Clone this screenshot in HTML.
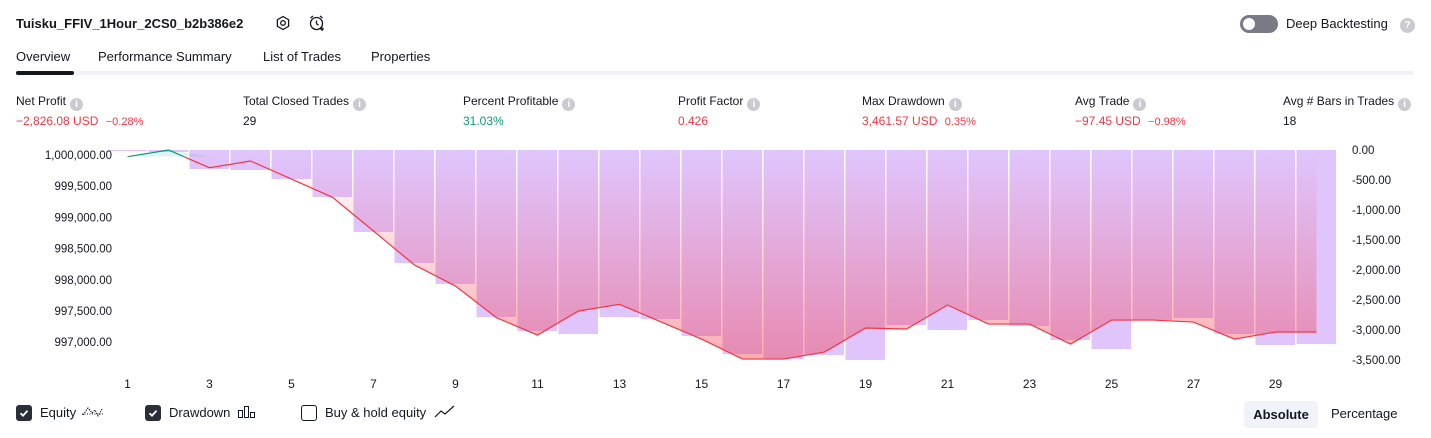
<!DOCTYPE html>
<html><head><meta charset="utf-8">
<style>
body{margin:0;width:1431px;height:438px;background:#fff;font-family:"Liberation Sans",sans-serif;color:#131722;overflow:hidden;position:relative}
.a{position:absolute;white-space:nowrap}
.lbl{font-size:12px;color:#131722}
.val{font-size:12px}
.info{display:inline-block;width:13px;height:13px;border-radius:50%;background:#c9cbd1;color:#fff;font-size:10px;line-height:13px;text-align:center;vertical-align:-2px;margin-left:4px;font-weight:bold}
.red{color:#f23645}.green{color:#089981}
.tab{font-size:13px;top:49px}
.cb{display:inline-block;width:16px;height:16px;border-radius:3px;vertical-align:-4px;margin-right:8px;box-sizing:border-box}
</style></head><body>
<div class="a" style="left:16px;top:16px;font-size:13px;font-weight:bold">Tuisku_FFIV_1Hour_2CS0_b2b386e2</div>
<svg class="a" style="left:275px;top:15px" width="16" height="16"><polygon points="8,1.5 13.6,4.75 13.6,11.25 8,14.5 2.4,11.25 2.4,4.75" fill="none" stroke="#131722" stroke-width="1.3"/><circle cx="8" cy="8" r="2.3" fill="none" stroke="#131722" stroke-width="1.3"/></svg>
<svg class="a" style="left:308px;top:14px" width="18" height="18"><circle cx="8.5" cy="9.5" r="6" fill="none" stroke="#131722" stroke-width="1.3"/><path d="M8.5 6.5v3.3l2 1.3M2.5 4l2.5-2M14.5 4l-2.5-2" fill="none" stroke="#131722" stroke-width="1.3"/><path d="M14 13v4M12 15h4" stroke="#131722" stroke-width="1.3"/></svg>
<div class="a" style="left:1240px;top:15px;width:38px;height:18px;border-radius:9px;background:#787b86"><div style="position:absolute;left:3px;top:3px;width:12px;height:12px;border-radius:50%;background:#fff"></div></div>
<div class="a" style="left:1286px;top:16px;font-size:13px">Deep Backtesting</div>
<div class="a info" style="left:1396px;top:18px;width:15px;height:15px;line-height:15px">?</div>

<div class="a tab" style="left:16px">Overview</div>
<div class="a tab" style="left:98px">Performance Summary</div>
<div class="a tab" style="left:263px">List of Trades</div>
<div class="a tab" style="left:371px">Properties</div>
<div class="a" style="left:16px;top:71px;width:1398px;height:4px;background:#f0f3fa"></div>
<div class="a" style="left:16px;top:71px;width:58px;height:4px;background:#131722;border-radius:2px"></div>

<div class="a lbl" style="left:16px;top:94px">Net Profit<span class="info">i</span></div>
<div class="a val red" style="left:16px;top:114px">−2,826.08 USD <span style="font-size:11px;margin-left:4px">−0.28%</span></div>
<div class="a lbl" style="left:243px;top:94px">Total Closed Trades<span class="info">i</span></div>
<div class="a val" style="left:243px;top:114px">29</div>
<div class="a lbl" style="left:463px;top:94px">Percent Profitable<span class="info">i</span></div>
<div class="a val green" style="left:463px;top:114px">31.03%</div>
<div class="a lbl" style="left:678px;top:94px">Profit Factor<span class="info">i</span></div>
<div class="a val red" style="left:678px;top:114px">0.426</div>
<div class="a lbl" style="left:862px;top:94px">Max Drawdown<span class="info">i</span></div>
<div class="a val red" style="left:862px;top:114px">3,461.57 USD <span style="font-size:11px;margin-left:4px">0.35%</span></div>
<div class="a lbl" style="left:1075px;top:94px">Avg Trade<span class="info">i</span></div>
<div class="a val red" style="left:1075px;top:114px">−97.45 USD <span style="font-size:11px;margin-left:4px">−0.98%</span></div>
<div class="a lbl" style="left:1283px;top:94px">Avg # Bars in Trades<span class="info">i</span></div>
<div class="a val" style="left:1283px;top:114px">18</div>

<svg id="chart" class="a" style="left:0;top:140px" width="1431" height="255">
<defs>
<linearGradient id="rg" gradientUnits="userSpaceOnUse" x1="0" y1="15" x2="0" y2="225"><stop offset="0" stop-color="#f23645" stop-opacity="0"/><stop offset="1" stop-color="#f23645" stop-opacity="0.42"/></linearGradient>
</defs>
</svg>

<div class="a" style="left:16px;top:405px;font-size:13px"><span class="cb" style="background:#2a2e39"><svg width="16" height="16"><path d="M4.5 8.2l2.5 2.5 4.5-5" fill="none" stroke="#fff" stroke-width="1.8"/></svg></span>Equity <svg width="26" height="14" style="vertical-align:-2px"><path d="M2 9h22" stroke="#131722" stroke-dasharray="1,1.5"/><path d="M3 10l5-7 4 5 3-3 3 6 4-7" fill="none" stroke="#131722" stroke-width="1" stroke-dasharray="1.5,1"/></svg></div>
<div class="a" style="left:145px;top:405px;font-size:13px"><span class="cb" style="background:#2a2e39"><svg width="16" height="16"><path d="M4.5 8.2l2.5 2.5 4.5-5" fill="none" stroke="#fff" stroke-width="1.8"/></svg></span>Drawdown <svg width="20" height="14" style="vertical-align:-2px;margin-left:3px"><rect x="1.5" y="5.5" width="4" height="7" fill="none" stroke="#131722"/><rect x="7.5" y="1.5" width="4" height="11" fill="none" stroke="#131722"/><rect x="13.5" y="7.5" width="4" height="5" fill="none" stroke="#131722"/></svg></div>
<div class="a" style="left:301px;top:405px;font-size:13px"><span class="cb" style="border:1px solid #131722"></span>Buy &amp; hold equity <svg width="24" height="14" style="vertical-align:-2px;margin-left:3px"><path d="M2 12l6-6 4 3 9-8" fill="none" stroke="#131722" stroke-width="1.2"/></svg></div>
<div class="a" style="left:1244px;top:401px;width:74px;height:27px;border-radius:4px;background:#f0f3fa;font-size:13px;font-weight:bold;line-height:27px;text-align:center">Absolute</div>
<div class="a" style="left:1331px;top:406px;font-size:13px">Percentage</div>

<script>
const trades = [1,2,3,4,5,6,7,8,9,10,11,12,13,14,15,16,17,18,19,20,21,22,23,24,25,26,27,28,29,30];
const drawdown = [17,33,317,333,483,783,1367,1883,2233,2783,3017,3067,2783,2817,3100,3400,3483,3417,3500,2917,3000,2833,2933,3167,3317,2833,2800,3067,3250,3233];
const equity = [999973,1000080,999796,999904,999615,999322,998782,998237,997900,997392,997115,997500,997607,997328,997050,996730,996730,996842,997227,997211,997596,997291,997291,996970,997355,997355,997323,997050,997163,997163];
const xTicks = [1,3,5,7,9,11,13,15,17,19,21,23,25,27,29];
const eqTicks = [1000000,999500,999000,998500,998000,997500,997000];
const ddTicks = [0,-500,-1000,-1500,-2000,-2500,-3000,-3500];

const svg = document.getElementById('chart');
const NS = 'http://www.w3.org/2000/svg';
const OY = 140;
const x = t => 127.5 + (t-1)*41;
const yEq = v => 155 + (1000000 - v) * 31.2/500 - OY;
const yDd = v => 150 + v * 30/500 - OY;
function mk(tag, attrs){const e=document.createElementNS(NS,tag);for(const k in attrs)e.setAttribute(k,attrs[k]);svg.appendChild(e);return e;}
const defs = svg.querySelector('defs');

trades.forEach((t,i)=>{
  const r = mk('rect',{x:x(t)-20, y:yDd(0), width:39.5, height:yDd(drawdown[i])-yDd(0), fill:'#e0c4fc'});
  
  
});

const base = yEq(equity[0]);
let d = 'M'+x(trades[0])+','+base;
trades.forEach((t,i)=>{ d += ' L'+x(t)+','+Math.max(yEq(equity[i]),base); });
d += ' L'+x(trades[trades.length-1])+','+base+' Z';
const area = mk('path',{d:d, fill:'url(#rg)'});


let d2 = 'M'+x(trades[0])+','+base;
trades.forEach((t,i)=>{ d2 += ' L'+x(t)+','+Math.min(yEq(equity[i]),base); });
d2 += ' L'+x(trades[trades.length-1])+','+base+' Z';
const area2 = mk('path',{d:d2, fill:'#089981', 'fill-opacity':0.12});



const pts = trades.map((t,i)=>[x(t), yEq(equity[i])]);
let lr = 'M'+pts.map(p=>p.join(',')).join(' L');
const clipA = document.createElementNS(NS,'clipPath'); clipA.setAttribute('id','above');
const ra = document.createElementNS(NS,'rect'); ra.setAttribute('x',0); ra.setAttribute('y',0); ra.setAttribute('width',1431); ra.setAttribute('height',base); clipA.appendChild(ra);
defs.appendChild(clipA);
const clipB = document.createElementNS(NS,'clipPath'); clipB.setAttribute('id','below');
const rb = document.createElementNS(NS,'rect'); rb.setAttribute('x',0); rb.setAttribute('y',base); rb.setAttribute('width',1431); rb.setAttribute('height',300); clipB.appendChild(rb);
defs.appendChild(clipB);
const l1 = mk('path',{d:lr, fill:'none', stroke:'#f23645','stroke-width':1.2,'clip-path':'url(#below)'});


const l2 = mk('path',{d:lr, fill:'none', stroke:'#089981','stroke-width':1.2,'clip-path':'url(#above)'});



eqTicks.forEach(v=>{
  const tx = mk('text',{x:112, y:yEq(v)+4, 'text-anchor':'end','font-size':11.5, fill:'#131722'});
  tx.textContent = v.toLocaleString('en-US',{minimumFractionDigits:2});
  
  
});
ddTicks.forEach(v=>{
  const tx = mk('text',{x:1352, y:yDd(-v)+4,'font-size':11.5, fill:'#131722'});
  tx.textContent = v.toLocaleString('en-US',{minimumFractionDigits:2});
  
  
});
xTicks.forEach(t=>{
  const tx = mk('text',{x:x(t), y:248,'text-anchor':'middle','font-size':12, fill:'#131722'});
  tx.textContent = t;
  
  
});
</script>
</body></html>
